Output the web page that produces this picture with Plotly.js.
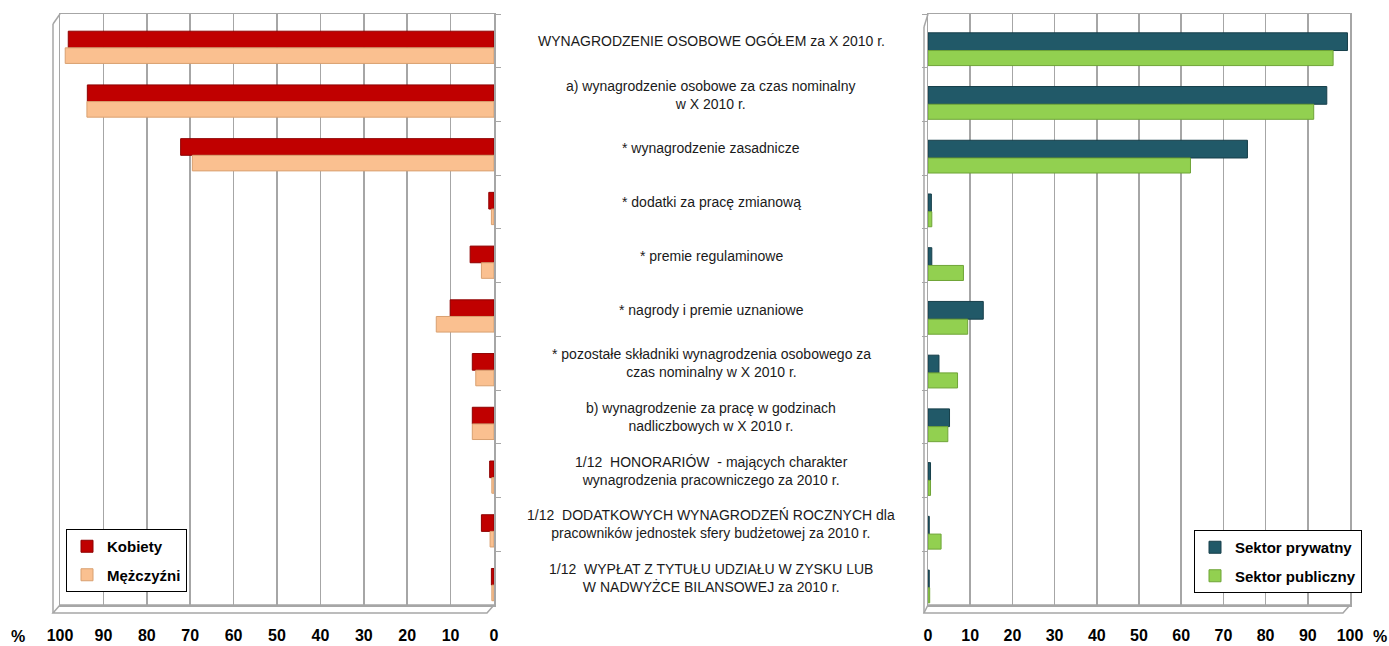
<!DOCTYPE html>
<html><head><meta charset="utf-8">
<script src="https://cdn.plot.ly/plotly-3.0.1.min.js"></script>
<style>html,body{margin:0;padding:0;background:#fff}#chart{width:1389px;height:646px}</style>
</head><body><div id="chart"></div>
<script>
const categories = [
  "WYNAGRODZENIE OSOBOWE OGÓŁEM za X 2010 r.",
  "a) wynagrodzenie osobowe za czas nominalny<br>w X 2010 r.",
  "* wynagrodzenie zasadnicze",
  "* dodatki za pracę zmianową",
  "* premie regulaminowe",
  "* nagrody i premie uznaniowe",
  "* pozostałe składniki wynagrodzenia osobowego za<br>czas nominalny w X 2010 r.",
  "b) wynagrodzenie za pracę w godzinach<br>nadliczbowych w X 2010 r.",
  "1/12  HONORARIÓW  - mających charakter<br>wynagrodzenia pracowniczego za 2010 r.",
  "1/12  DODATKOWYCH WYNAGRODZEŃ ROCZNYCH dla<br>pracowników jednostek sfery budżetowej za 2010 r.",
  "1/12  WYPŁAT Z TYTUŁU UDZIAŁU W ZYSKU LUB<br>W NADWYŻCE BILANSOWEJ za 2010 r."
];
const kobiety    = [98.1, 93.7, 72.2, 1.2, 5.5, 10.1, 5.0, 5.0, 1.0, 2.9, 0.6];
const mezczyzni  = [98.8, 93.8, 69.5, 0.6, 2.9, 13.3, 4.2, 5.0, 0.5, 0.9, 0.5];
const prywatny   = [99.4, 94.5, 75.7, 0.8, 0.9, 13.1, 2.6, 5.1, 0.6, 0.3, 0.3];
const publiczny  = [96.0, 91.4, 62.2, 0.9, 8.4, 9.4, 7.0, 4.7, 0.6, 3.1, 0.4];
const tickVals = [0,10,20,30,40,50,60,70,80,90,100];
const tickText = ["0","10","20","30","40","50","60","70","80","90","100"];

const W = 1389, H = 646;
const px = v => v / W, py = v => 1 - v / H;
const sans = 'Liberation Sans, Arial, sans-serif';

const traces = [
  {type:'bar', orientation:'h', name:'Kobiety', y:categories, x:kobiety, xaxis:'x', yaxis:'y',
   offset:-0.18, width:0.31,
   marker:{color:'#C00000', line:{color:'#8E0000', width:1}}, legend:'legend', legendgroup:'a'},
  {type:'bar', orientation:'h', name:'Mężczyźni', y:categories, x:mezczyzni, xaxis:'x', yaxis:'y',
   offset:0.13, width:0.29,
   marker:{color:'#FAC090', line:{color:'#D9A070', width:1}}, legend:'legend', legendgroup:'b'},
  {type:'bar', orientation:'h', name:'Sektor prywatny', y:categories, x:prywatny, xaxis:'x2', yaxis:'y2',
   offset:-0.15, width:0.33,
   marker:{color:'#215968', line:{color:'#173F4A', width:1}}, legend:'legend2', legendgroup:'c'},
  {type:'bar', orientation:'h', name:'Sektor publiczny', y:categories, x:publiczny, xaxis:'x2', yaxis:'y2',
   offset:0.18, width:0.28,
   marker:{color:'#92D050', line:{color:'#6FA437', width:1}}, legend:'legend2', legendgroup:'d'}
];

const grid = '#A6A6A6';
const tickFont = {family:sans, size:16, color:'#000', weight:'bold'};
const xCommon = {
  tickvals:tickVals, ticktext:tickText, showgrid:true, gridcolor:grid, gridwidth:1.5,
  showline:true, linecolor:grid, linewidth:1.5, mirror:true, zeroline:false,
  ticks:'outside', ticklen:15, tickcolor:'rgba(0,0,0,0)', tickfont:tickFont, fixedrange:true,
  automargin:false
};
const yCommon = {
  type:'category', categoryorder:'array', categoryarray:categories, autorange:'reversed',
  showticklabels:false, ticks:'outside', tickson:'boundaries', ticklen:5, tickcolor:grid,
  showline:true, linecolor:grid, linewidth:1.5, mirror:true, showgrid:false, zeroline:false,
  domain:[py(605), py(14)], fixedrange:true, automargin:false
};

const labelFont = {family:sans, size:14, color:'#1a1a1a'};
const annotations = categories.map(c => ({
  xref:'paper', yref:'y', x:px(711), y:c, text:c, showarrow:false,
  xanchor:'center', yanchor:'middle', align:'center', font:labelFont
}));
annotations.push({xref:'paper', yref:'paper', x:px(18), y:py(636), text:'%', showarrow:false,
  xanchor:'center', yanchor:'middle', font:tickFont});
annotations.push({xref:'paper', yref:'paper', x:px(1380), y:py(636), text:'%', showarrow:false,
  xanchor:'center', yanchor:'middle', font:tickFont});

// 3D-style floor outlines (decoration)
const floorLine = {color:grid, width:1.5};
const shapes = [
  {type:'path', xref:'paper', yref:'paper', line:floorLine, fillcolor:'rgba(0,0,0,0)',
   path:`M ${px(53)},${py(613)} L ${px(487)},${py(613)} L ${px(494)},${py(605)} L ${px(60)},${py(605)} Z`},
  {type:'line', xref:'paper', yref:'paper', line:floorLine, x0:px(53), y0:py(613), x1:px(53), y1:py(24)},
  {type:'line', xref:'paper', yref:'paper', line:floorLine, x0:px(53), y0:py(24), x1:px(60), y1:py(14)},
  {type:'path', xref:'paper', yref:'paper', line:floorLine, fillcolor:'rgba(0,0,0,0)',
   path:`M ${px(924)},${py(613)} L ${px(1343)},${py(613)} L ${px(1350)},${py(605)} L ${px(928)},${py(605)} Z`},
  {type:'line', xref:'paper', yref:'paper', line:floorLine, x0:px(924), y0:py(613), x1:px(924), y1:py(27)},
  {type:'line', xref:'paper', yref:'paper', line:floorLine, x0:px(924), y0:py(27), x1:px(928), y1:py(14)}
];

const legendFont = {family:sans, size:15, color:'#000', weight:'bold'};
const layout = {
  width:W, height:H, margin:{l:0, r:0, t:0, b:0, autoexpand:false},
  paper_bgcolor:'#fff', plot_bgcolor:'#fff',
  barmode:'group', bargap:0.4, bargroupgap:0,
  showlegend:true,
  xaxis:Object.assign({}, xCommon, {domain:[px(60), px(494)], range:[100, 0], anchor:'y'}),
  yaxis:Object.assign({}, yCommon, {anchor:'x', side:'right'}),
  xaxis2:Object.assign({}, xCommon, {domain:[px(928), px(1350)], range:[0, 100], anchor:'y2'}),
  yaxis2:Object.assign({}, yCommon, {anchor:'x2', side:'left'}),
  legend:{x:px(66), y:py(529), xanchor:'left', yanchor:'top', bgcolor:'#fff',
    bordercolor:'#000', borderwidth:1, font:legendFont, traceorder:'grouped', tracegroupgap:6,
    itemwidth:30},
  legend2:{x:px(1194), y:py(530), xanchor:'left', yanchor:'top', bgcolor:'#fff',
    bordercolor:'#000', borderwidth:1, font:legendFont, traceorder:'grouped', tracegroupgap:6,
    itemwidth:30},
  shapes:shapes,
  annotations:annotations
};

Plotly.newPlot('chart', traces, layout, {displayModeBar:false, staticPlot:true});
</script>
</body></html>
